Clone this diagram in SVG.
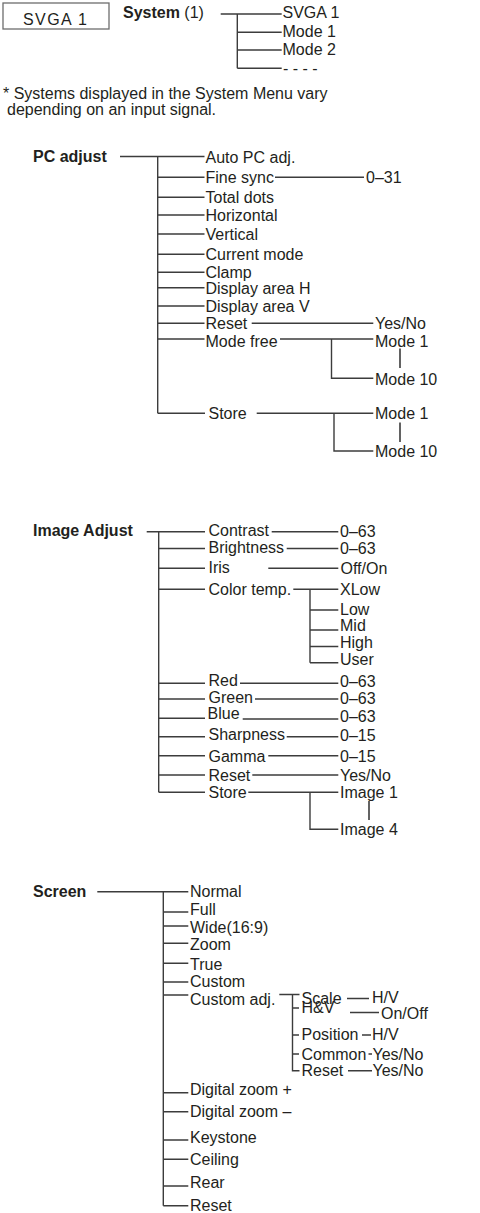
<svg xmlns="http://www.w3.org/2000/svg" width="480" height="1213" viewBox="0 0 480 1213">
<style>
.t{font-family:"Liberation Sans",Arial,Helvetica,sans-serif;font-size:16px;fill:#231f20}
.b{font-weight:bold}
.c{stroke:#3c3c3c;stroke-width:1.4;fill:none}
.bar{stroke:#3c3c3c;stroke-width:1.6;fill:none}
</style>
<rect width="480" height="1213" fill="#ffffff"/>
<g id="connectors">
<path class="c" d="M220.7,14H281.7M237.3,14V68.3M237.3,32.3H281.7M237.3,50H281.7M237.3,68.3H281.7"/>
<path class="c" d="M120,156.5H204.5M157.7,156.5V413.3M157.7,177.3H204.5M157.7,197.3H204.5M157.7,215H204.5M157.7,234H204.5M157.7,254.3H204.5M157.7,272.3H204.5M157.7,287.7H204.5M157.7,306H204.5M157.7,323.3H204.5M157.7,339H204.5M157.7,413.3H205"/>
<path class="c" d="M275,177.3H364M251.7,323.3H373.3M280,339H373.3M331.5,339V378.3H373.3M256.7,413.3H373.3M334,413.3V451H373.3"/>
<path class="bar" d="M400,348.5V368M400,422.5V442"/>
<path class="c" d="M146.7,531.7H205M158.7,531.7V792.3M158.7,548.5H205M158.7,568.3H205M158.7,589.3H205M158.7,683.3H205M158.7,699H205M158.7,718.3H205M158.7,736.7H205M158.7,755.7H205M158.7,775H205M158.7,792.3H205"/>
<path class="c" d="M271.7,531.7H338.3M286.7,548.5H338.3M268.3,568.3H338.3M293.3,589.3H338.3M310,589.3V662.7M310,610H338.3M310,630H338.3M310,646.5H338.3M310,662.7H338.3M240,683.3H338.3M255,699H338.3M242.7,719H338.3M286.7,736.7H338.3M268.3,755.7H338.3M252.3,775H338.3M248.3,792.3H338.3M310,792.3V829.3H338.3"/>
<path class="bar" d="M369,801V820"/>
<path class="c" d="M97.3,891.7H188.3M163.3,891.7V1205.7M163.3,912H188.3M163.3,926H188.3M163.3,943.3H188.3M163.3,963.3H188.3M163.3,982H188.3M163.3,995H188.3M163.3,1092.7H188.3M163.3,1111.7H188.3M163.3,1140H188.3M163.3,1159.3H188.3M163.3,1186H188.3M163.3,1205.7H188.3"/>
<path class="c" d="M279.3,994.5H299.5M292.5,994.5V1070.7H299.5M292.5,1008H299M292.5,1035H299M292.5,1054H299"/>
<path class="c" d="M347,998.5H369M350,1012.5H379M362,1035H371M368.5,1054H372M348,1070.7H372"/>
</g>
<g id="svga-box">
<rect x="3" y="3" width="106" height="26" fill="#ffffff" stroke="#6d6d6d" stroke-width="1.3"/>
<text class="t" x="23" y="25" letter-spacing="1.4">SVGA 1</text>
</g>
<g id="system"><text class="t" x="123" y="17.5"><tspan class="b">System</tspan> (1)</text></g>
<g id="system-options">
<text class="t" x="282.5" y="18.3">SVGA 1</text>
<text class="t" x="282.5" y="37.3">Mode 1</text>
<text class="t" x="282.5" y="55">Mode 2</text>
<text class="t" x="283" y="74">- - - -</text>
</g>
<g id="note">
<text class="t" x="3" y="98.5">* Systems displayed in the System Menu vary</text>
<text class="t" x="7" y="115">depending on an input signal.</text>
</g>
<g id="pc-adjust"><text class="t b" x="33" y="162">PC adjust</text></g>
<g id="pc-adjust-items">
<text class="t" x="205.5" y="162.5">Auto PC adj.</text>
<text class="t" x="205.5" y="183.3">Fine sync</text>
<text class="t" x="205.5" y="203">Total dots</text>
<text class="t" x="205.5" y="221">Horizontal</text>
<text class="t" x="205.5" y="239.8">Vertical</text>
<text class="t" x="205.5" y="260.3">Current mode</text>
<text class="t" x="205.5" y="277.8">Clamp</text>
<text class="t" x="205.5" y="293.7">Display area H</text>
<text class="t" x="205.5" y="311.7">Display area V</text>
<text class="t" x="205.5" y="328.5">Reset</text>
<text class="t" x="205.5" y="346.5">Mode free</text>
<text class="t" x="208.5" y="419.3">Store</text>
</g>
<g id="pc-adjust-values">
<text class="t" x="366" y="183.3">0–31</text>
<text class="t" x="375" y="328.5">Yes/No</text>
<text class="t" x="375" y="346.5">Mode 1</text>
<text class="t" x="375" y="385">Mode 10</text>
<text class="t" x="375" y="419.3">Mode 1</text>
<text class="t" x="375" y="456.7">Mode 10</text>
</g>
<g id="image-adjust"><text class="t b" x="33" y="536">Image Adjust</text></g>
<g id="image-adjust-items">
<text class="t" x="208.5" y="536.3">Contrast</text>
<text class="t" x="208.5" y="553.3">Brightness</text>
<text class="t" x="208.5" y="573.3">Iris</text>
<text class="t" x="208.5" y="595">Color temp.</text>
<text class="t" x="208.5" y="685.7">Red</text>
<text class="t" x="208.5" y="703.3">Green</text>
<text class="t" x="207.5" y="719">Blue</text>
<text class="t" x="208.5" y="740">Sharpness</text>
<text class="t" x="208.5" y="761.7">Gamma</text>
<text class="t" x="208.5" y="780.7">Reset</text>
<text class="t" x="208.5" y="798">Store</text>
</g>
<g id="image-adjust-values">
<text class="t" x="340" y="537">0–63</text>
<text class="t" x="340" y="554">0–63</text>
<text class="t" x="340.5" y="574">Off/On</text>
<text class="t" x="340" y="595">XLow</text>
<text class="t" x="340" y="614.5">Low</text>
<text class="t" x="340" y="630.7">Mid</text>
<text class="t" x="340" y="648">High</text>
<text class="t" x="340" y="665">User</text>
<text class="t" x="340" y="686.5">0–63</text>
<text class="t" x="340" y="704">0–63</text>
<text class="t" x="340" y="721.7">0–63</text>
<text class="t" x="340" y="740.7">0–15</text>
<text class="t" x="340" y="761.7">0–15</text>
<text class="t" x="340" y="780.5">Yes/No</text>
<text class="t" x="340" y="798">Image 1</text>
<text class="t" x="340" y="834.5">Image 4</text>
</g>
<g id="screen"><text class="t b" x="33" y="896.7">Screen</text></g>
<g id="screen-items">
<text class="t" x="190" y="896.7">Normal</text>
<text class="t" x="190" y="915">Full</text>
<text class="t" x="190" y="932.5">Wide(16:9)</text>
<text class="t" x="190" y="950">Zoom</text>
<text class="t" x="190" y="969.5">True</text>
<text class="t" x="190" y="987.3">Custom</text>
<text class="t" x="190" y="1005">Custom adj.</text>
<text class="t" x="190" y="1095">Digital zoom +</text>
<text class="t" x="190" y="1117.3">Digital zoom –</text>
<text class="t" x="190" y="1143.3">Keystone</text>
<text class="t" x="190" y="1165">Ceiling</text>
<text class="t" x="190" y="1188.3">Rear</text>
<text class="t" x="190" y="1210.7">Reset</text>
</g>
<g id="custom-adj-items">
<text class="t" x="301.5" y="1003.5">Scale</text>
<text class="t" x="301.5" y="1012.5">H&amp;V</text>
<text class="t" x="301.5" y="1040">Position</text>
<text class="t" x="301.5" y="1060">Common</text>
<text class="t" x="301.5" y="1076">Reset</text>
</g>
<g id="custom-adj-values">
<text class="t" x="372" y="1003">H/V</text>
<text class="t" x="381" y="1018.5">On/Off</text>
<text class="t" x="372" y="1040">H/V</text>
<text class="t" x="372.5" y="1060">Yes/No</text>
<text class="t" x="372.5" y="1076">Yes/No</text>
</g>
</svg>
